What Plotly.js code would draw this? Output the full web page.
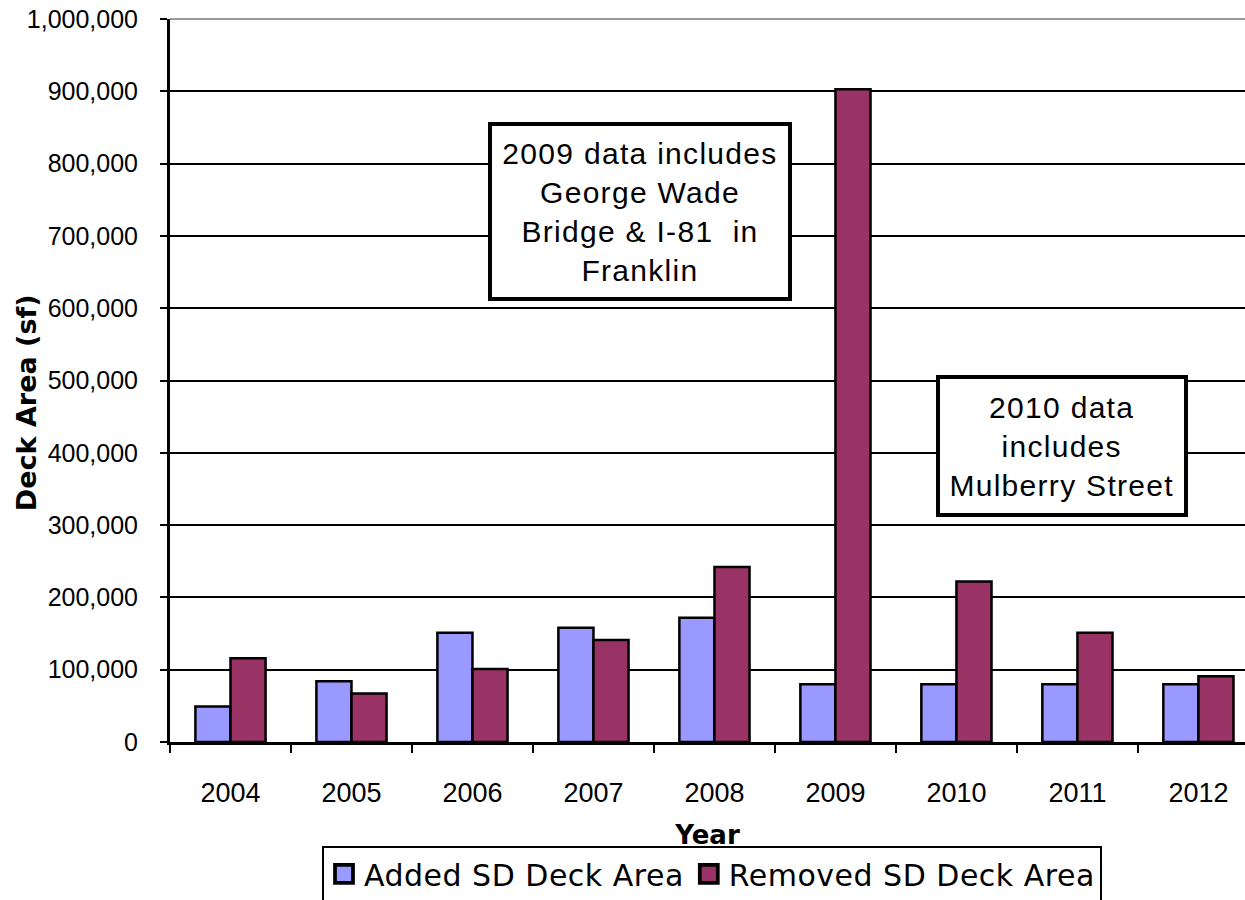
<!DOCTYPE html>
<html>
<head>
<meta charset="utf-8">
<script src="https://cdn.plot.ly/plotly-3.0.1.min.js"></script>
<style>
  html, body { margin: 0; padding: 0; background: #fff; }
  #chart { width: 1245px; height: 900px; }
  .legendtext { letter-spacing: 0.5px; }
  .annotation[data-index="1"] text, .annotation[data-index="2"] text { letter-spacing: 1.3px; }
</style>
</head>
<body>
<div id="chart"></div>
<script>
const years = ['2004', '2005', '2006', '2007', '2008', '2009', '2010', '2011', '2012'];
const addedSD = [49000, 84000, 151000, 158000, 172000, 80000, 80000, 80000, 80000];
const removedSD = [116000, 67000, 101000, 141000, 242000, 903000, 222000, 151000, 91000];
const seriesNames = ['Added SD Deck Area', 'Removed SD Deck Area'];
const yTickVals = [0, 100000, 200000, 300000, 400000, 500000, 600000, 700000, 800000, 900000, 1000000];
const yTickText = ['0', '100,000', '200,000', '300,000', '400,000', '500,000', '600,000', '700,000', '800,000', '900,000', '1,000,000'];
const note2009 = '2009 data includes<br>George Wade<br>Bridge &amp; I-81  in<br>Franklin';
const note2010 = '2010 data<br>includes<br>Mulberry Street';

const traces = [
  {
    type: 'bar', name: seriesNames[0], x: years, y: addedSD,
    marker: { color: '#9999FF', line: { color: '#000000', width: 2.5 } },
    hoverinfo: 'x+y'
  },
  {
    type: 'bar', name: seriesNames[1], x: years, y: removedSD,
    marker: { color: '#993366', line: { color: '#000000', width: 2.5 } },
    hoverinfo: 'x+y'
  }
];

const layout = {
  width: 1245, height: 900,
  margin: { l: 170, r: 0, t: 19, b: 158, autoexpand: false },
  paper_bgcolor: '#ffffff', plot_bgcolor: '#ffffff',
  barmode: 'group', bargap: 0.42, bargroupgap: 0,
  showlegend: true,
  font: { family: 'Liberation Sans, Arial, sans-serif', color: '#000000' },
  xaxis: {
    type: 'category',
    range: [-0.5, 8.385],
    showline: true, linecolor: '#000000', linewidth: 3,
    ticks: 'outside', tickson: 'boundaries', ticklen: 8, tickwidth: 2, tickcolor: '#000000',
    showgrid: false, zeroline: false,
    tickfont: { family: 'Liberation Sans, Arial, sans-serif', size: 27, color: '#000000' },
    ticklabelstandoff: 25,
    title: { text: 'Year', font: { family: 'DejaVu Sans, Verdana, sans-serif', size: 26, weight: 'bold', color: '#000000' }, standoff: 19 }
  },
  yaxis: {
    range: [0, 1000000],
    tickvals: yTickVals, ticktext: yTickText,
    showline: true, linecolor: '#000000', linewidth: 3,
    ticks: 'outside', ticklen: 7, tickwidth: 2, tickcolor: '#000000',
    showgrid: true, gridcolor: '#000000', gridwidth: 2,
    zeroline: false,
    tickfont: { family: 'Liberation Sans, Arial, sans-serif', size: 25, color: '#000000' },
    ticklabelstandoff: 17
  },
  legend: {
    orientation: 'h',
    x: 0.1414, xanchor: 'left',
    y: -0.1438, yanchor: 'top',
    bgcolor: '#ffffff', bordercolor: '#000000', borderwidth: 2,
    font: { family: 'DejaVu Sans, Verdana, sans-serif', size: 30, color: '#000000' },
    traceorder: 'normal'
  },
  shapes: [
    { type: 'line', xref: 'paper', yref: 'paper', x0: 0, x1: 1, y0: 1, y1: 1,
      line: { color: '#999999', width: 2 }, layer: 'above' }
  ],
  annotations: [
    {
      text: 'Deck Area (sf)', xref: 'paper', yref: 'paper',
      x: -0.134, y: 0.47, xanchor: 'center', yanchor: 'middle', textangle: -90,
      showarrow: false,
      font: { family: 'DejaVu Sans, Verdana, sans-serif', size: 27, weight: 'bold', color: '#000000' }
    },
    {
      text: note2009, xref: 'paper', yref: 'paper',
      x: 0.437, y: 0.7338, xanchor: 'center', yanchor: 'middle',
      showarrow: false, align: 'center', valign: 'middle',
      width: 294, height: 169,
      bgcolor: '#ffffff', bordercolor: '#000000', borderwidth: 4, borderpad: 1,
      font: { family: 'Liberation Sans, Arial, sans-serif', size: 30, color: '#000000' }
    },
    {
      text: note2010, xref: 'paper', yref: 'paper',
      x: 0.8298, y: 0.4094, xanchor: 'center', yanchor: 'middle',
      showarrow: false, align: 'center', valign: 'middle',
      width: 242, height: 132,
      bgcolor: '#ffffff', bordercolor: '#000000', borderwidth: 4, borderpad: 1,
      font: { family: 'Liberation Sans, Arial, sans-serif', size: 30, color: '#000000' }
    }
  ]
};

Plotly.newPlot('chart', traces, layout, { displayModeBar: false, staticPlot: true }).then(function (gd) {
  // enlarge the legend colour swatches to match the original's larger squares
  document.querySelectorAll('.legendpoints path').forEach(function (p) {
    var t = p.getAttribute('transform') || '';
    p.setAttribute('transform', t + ' scale(1.5)');
  });
});
</script>
</body>
</html>
